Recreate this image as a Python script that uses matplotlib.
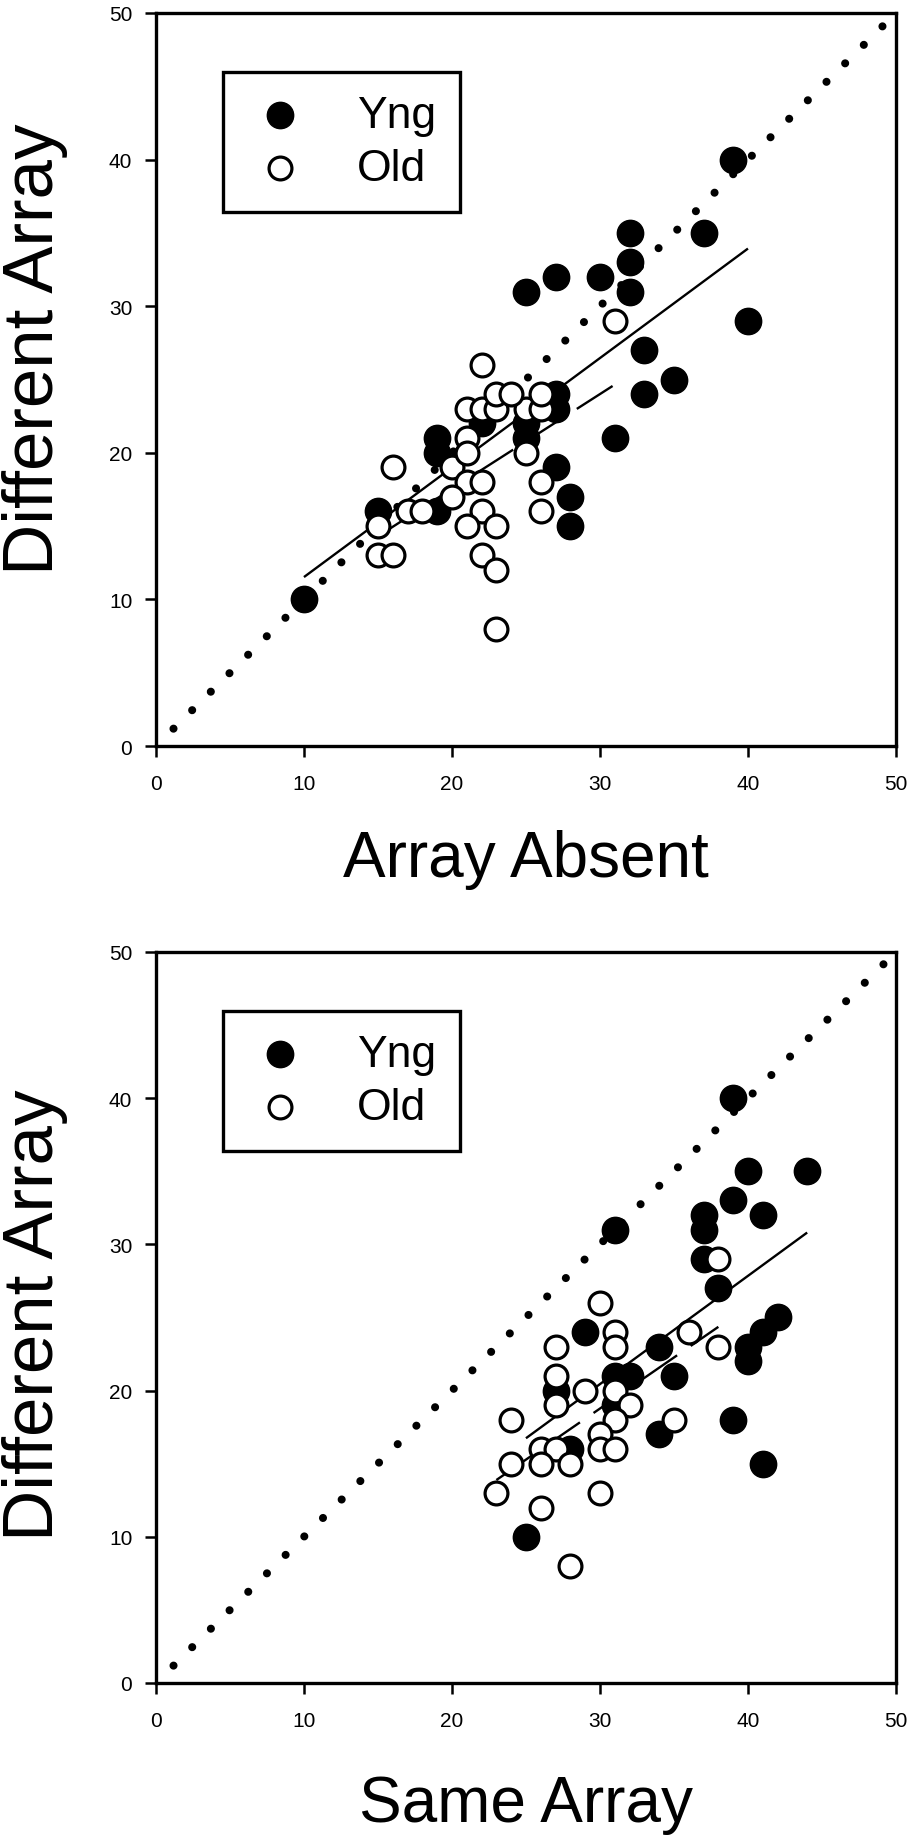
import numpy as np
import matplotlib.pyplot as plt

plt.rcParams['font.family'] = ['Liberation Sans', 'DejaVu Sans']

# top panel: Array Absent (x) vs Different Array (y)
yng_absent = [10, 15, 19, 19, 19, 22, 25, 25, 27, 27, 27, 28, 28, 31, 33, 35, 33, 40,
              25, 27, 30, 32, 32, 32, 37, 39]
yng_diff_a = [10, 16, 21, 20, 16, 22, 22, 21, 24, 23, 19, 17, 15, 21, 24, 25, 27, 29,
              31, 32, 32, 31, 33, 35, 35, 40]
old_absent = [16, 20, 21, 21, 21, 22, 23, 25, 26, 23, 24, 26, 22, 31, 25, 21, 22, 26,
              20, 17, 18, 22, 26, 15, 21, 23, 15, 16, 22, 23, 23]
old_diff_a = [19, 19, 21, 20, 23, 23, 23, 23, 23, 24, 24, 24, 26, 29, 20, 18, 18, 18,
              17, 16, 16, 16, 16, 15, 15, 15, 13, 13, 13, 12, 8]

# bottom panel: Same Array (x) vs Different Array (y)
yng_same = [39, 40, 44, 39, 37, 41, 37, 31, 37, 38, 29, 42, 41, 40, 40, 34, 35, 31,
            32, 27, 31, 34, 39, 41, 28, 25]
yng_diff_b = [40, 35, 35, 33, 32, 32, 31, 31, 29, 27, 24, 25, 24, 23, 22, 23, 21, 21,
              21, 20, 19, 17, 18, 15, 16, 10]
old_same = [38, 30, 31, 31, 27, 36, 38, 27, 27, 29, 31, 32, 31, 24, 30, 30, 31, 35,
            26, 27, 24, 26, 28, 23, 30, 26, 28]
old_diff_b = [29, 26, 24, 23, 23, 24, 23, 21, 19, 20, 20, 19, 18, 18, 17, 16, 16, 18,
              16, 16, 15, 15, 15, 13, 13, 12, 8]

ticks = [0, 10, 20, 30, 40, 50]
unity = [0, 50]


def fit_line(ax, x, y, **kw):
    p = np.polyfit(x, y, 1)
    xs = np.array([min(x), max(x)])
    ax.plot(xs, np.polyval(p, xs), color='black', lw=1.7, zorder=2, **kw)


def panel(ax, xy, yy, xo, yo):
    ax.plot(unity, unity, color='black', lw=5.8, dash_capstyle='round',
            linestyle=(0.2, (0.01, 3.25)), zorder=1)
    fit_line(ax, xy, yy, solid_capstyle='butt')
    fit_line(ax, xo, yo, linestyle=(0, (18, 7)))
    ax.scatter(xy, yy, s=360, c='black', edgecolors='black', linewidths=1,
               zorder=3, label='Yng')
    ax.scatter(xo, yo, s=270, c='white', edgecolors='black', linewidths=2.3,
               zorder=4, label='Old')
    ax.set_xlim(0, 50)
    ax.set_ylim(0, 50)
    ax.set_xticks(ticks)
    ax.set_yticks(ticks)
    ax.tick_params(direction='out', length=8, width=1.8, labelsize=15)
    ax.tick_params(axis='x', pad=12)
    ax.tick_params(axis='y', pad=9)
    for s in ax.spines.values():
        s.set_linewidth(2.4)
    leg = ax.legend(loc='upper left', bbox_to_anchor=(0.0907, 0.9195),
                    borderaxespad=0, fontsize=32, frameon=True, fancybox=False,
                    framealpha=1, edgecolor='black', borderpad=0.52,
                    handlelength=1.5, handletextpad=1.0, labelspacing=0.27,
                    scatterpoints=1)
    leg.get_frame().set_linewidth(2.4)


fig = plt.figure(figsize=(9.11, 18.4), dpi=100)
ax1 = fig.add_axes([0.1712, 0.594, 0.8123, 0.3984])
ax2 = fig.add_axes([0.1712, 0.0848, 0.8123, 0.3973])

panel(ax1, yng_absent, yng_diff_a, old_absent, old_diff_a)
panel(ax2, yng_same, yng_diff_b, old_same, old_diff_b)

fig.text(0.5774, 0.5234, 'Array Absent', fontsize=46, ha='center', va='baseline')
fig.text(0.5774, 0.0100, 'Same Array', fontsize=46, ha='center', va='baseline')
fig.text(0.038, 1 - 349 / 1840, 'Different Array', fontsize=51, rotation=90,
         ha='center', va='center')
fig.text(0.038, 1 - 1315 / 1840, 'Different Array', fontsize=51, rotation=90,
         ha='center', va='center')

fig.savefig('out.png', dpi=100)
